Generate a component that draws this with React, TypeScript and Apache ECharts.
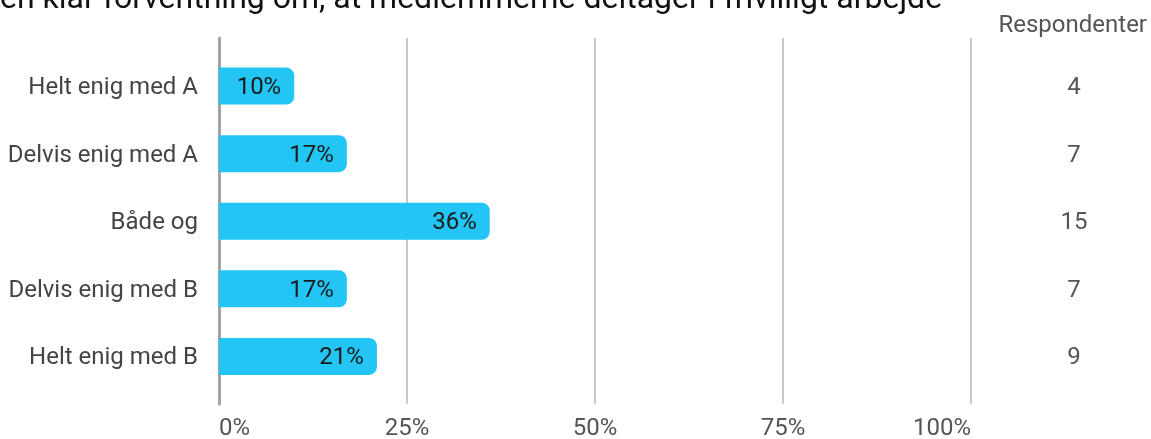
import React, { useEffect, useRef } from "react";
import * as echarts from "echarts";

const titleText = "en klar forventning om, at medlemmerne deltager i frivilligt arbejde";
const categories = ["Helt enig med A", "Delvis enig med A", "Både og", "Delvis enig med B", "Helt enig med B"];
const percentValues = [10, 17, 36, 17, 21];
const respondents = [4, 7, 15, 7, 9];
const xTicks = [0, 25, 50, 75, 100];
const respondentHeader = "Respondenter";

export default function App() {
  const ref = useRef<HTMLDivElement>(null);
  useEffect(() => {
    if (!ref.current) return;
    const chart = echarts.init(ref.current, null, { renderer: "svg" });
    const font = "Roboto, 'Noto Sans', sans-serif";
    chart.setOption({
      animation: false,
      textStyle: { fontFamily: font },
      grid: [
        { left: 219, right: 180, top: 38, bottom: 34 },
        { left: 219, right: 180, top: 52.25, bottom: 48.75 },
      ],
      xAxis: [
        {
          gridIndex: 0,
          type: "value",
          min: 0,
          max: 100,
          interval: 25,
          axisLine: { show: false },
          axisTick: { show: false },
          splitLine: { show: true, lineStyle: { color: "#b8b8b8", width: 1.5 } },
          axisLabel: {
            margin: 15,
            fontSize: 24,
            lineHeight: 16,
            color: "#555",
            fontFamily: font,
            alignMinLabel: "left",
            alignMaxLabel: "right",
            formatter: (v: number) => (xTicks.includes(v) ? v + "%" : ""),
          },
        },
        {
          gridIndex: 1,
          type: "value",
          min: 0,
          max: 100,
          show: false,
        },
      ],
      yAxis: [
        {
          gridIndex: 0,
          type: "value",
          min: 0,
          max: 1,
          axisLine: { show: true, lineStyle: { color: "#a3a3a3", width: 3 } },
          axisTick: { show: false },
          axisLabel: { show: false },
          splitLine: { show: false },
        },
        {
          gridIndex: 1,
          type: "category",
          data: categories,
          inverse: true,
          axisLine: { show: false },
          axisTick: { show: false },
          axisLabel: { margin: 21, fontSize: 24, color: "#444", fontFamily: font },
        },
        {
          gridIndex: 1,
          type: "category",
          position: "right",
          data: respondents.map(String),
          inverse: true,
          axisLine: { show: false },
          axisTick: { show: false },
          axisLabel: { margin: 103, align: "center", fontSize: 24, color: "#555", fontFamily: font },
        },
      ],
      series: [
        {
          type: "bar",
          xAxisIndex: 1,
          yAxisIndex: 1,
          data: percentValues,
          barWidth: 37,
          itemStyle: { color: "#22c5f4", borderRadius: [0, 8, 8, 0] },
          label: {
            show: true,
            position: "insideRight",
            distance: 13,
            fontSize: 24,
            color: "#1a1a1a",
            fontFamily: font,
            formatter: (p: any) => p.value + "%",
          },
        },
      ],
      graphic: [
        {
          type: "text",
          left: 0,
          top: -19,
          style: { text: titleText, font: "32px " + font, fill: "#111" },
        },
        {
          type: "text",
          right: 4,
          top: 12,
          style: { text: respondentHeader, font: "24px " + font, fill: "#555" },
        },
      ],
    });
    return () => chart.dispose();
  }, []);
  return <div ref={ref} style={{ position: "fixed", left: 0, top: 0, width: 1151, height: 439 }} />;
}
